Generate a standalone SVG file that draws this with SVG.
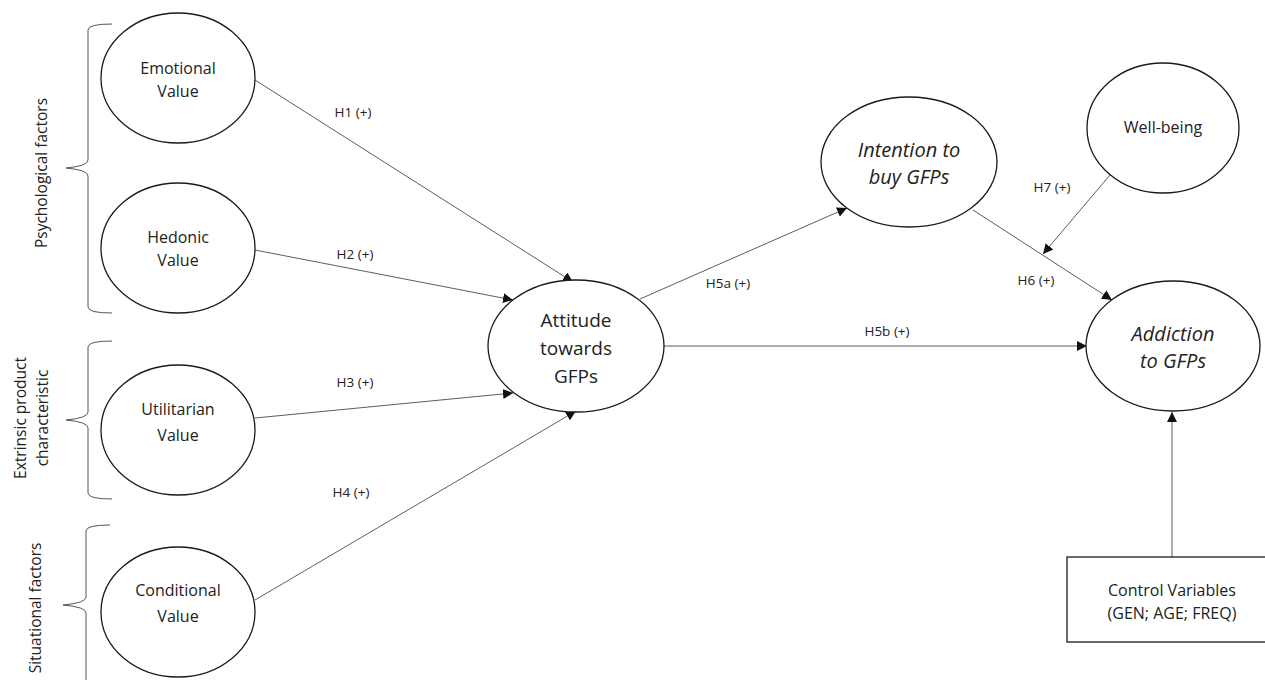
<svg xmlns="http://www.w3.org/2000/svg" width="1265" height="680" viewBox="0 0 1265 680">
<style>
.node{fill:#fff;stroke:#1a1a1a;stroke-width:1.3}
.t{font-family:"Open Sans","Liberation Sans",sans-serif;font-size:16px;fill:#222;text-anchor:middle}
.side{font-size:15.5px}
.big{font-size:19px}
.it{font-style:italic;font-size:20px}
.lbl{font-family:"Open Sans","Liberation Sans",sans-serif;font-size:13.5px;fill:#222;text-anchor:middle}
.edge{stroke:#333;stroke-width:0.8;fill:none}
.brace{stroke:#555;stroke-width:1;fill:none}
</style>
<defs>
<marker id="arr" viewBox="0 0 10 10" refX="10" refY="5" markerWidth="10" markerHeight="10" markerUnits="userSpaceOnUse" orient="auto">
<path d="M0,0 L10,5 L0,10 z" fill="#111"/>
</marker>
</defs>
<rect width="1265" height="680" fill="#fff"/>

<g id="braces">
<path class="brace" d="M112,24 Q88,24 88,30 L88,160 Q88,166 66,168 Q88,170 88,176 L88,307 Q88,313 112,313"/>
<path class="brace" d="M112,341 Q88,341 88,347 L88,412 Q88,418 66,420 Q88,422 88,428 L88,493 Q88,499 112,499"/>
<path class="brace" d="M110,525 Q86,525 86,531 L86,597 Q86,603 63,605 Q86,607 86,613 L86,690"/>
<text class="t side" transform="translate(47,173) rotate(-90)">Psychological factors</text>
<text class="t side" transform="translate(26,418) rotate(-90)">Extrinsic product</text>
<text class="t side" transform="translate(48,418) rotate(-90)">characteristic</text>
<text class="t side" transform="translate(41,608) rotate(-90)">Situational factors</text>
</g>

<g id="connectors">
<line class="edge" x1="255" y1="80" x2="573" y2="282" marker-end="url(#arr)"/>
<line class="edge" x1="255" y1="250" x2="513" y2="300" marker-end="url(#arr)"/>
<line class="edge" x1="255" y1="418" x2="513" y2="393" marker-end="url(#arr)"/>
<line class="edge" x1="255" y1="600" x2="576" y2="411" marker-end="url(#arr)"/>
<line class="edge" x1="640" y1="299" x2="847" y2="208" marker-end="url(#arr)"/>
<line class="edge" x1="664" y1="346" x2="1087" y2="346" marker-end="url(#arr)"/>
<line class="edge" x1="973" y1="210" x2="1112" y2="300" marker-end="url(#arr)"/>
<line class="edge" x1="1110" y1="175" x2="1043" y2="254" marker-end="url(#arr)"/>
<line class="edge" x1="1172" y1="557" x2="1172" y2="412" marker-end="url(#arr)"/>
<text class="lbl" x="353" y="117">H1 (+)</text>
<text class="lbl" x="355" y="259">H2 (+)</text>
<text class="lbl" x="355" y="387">H3 (+)</text>
<text class="lbl" x="351" y="497">H4 (+)</text>
<text class="lbl" x="728" y="288">H5a (+)</text>
<text class="lbl" x="887" y="336">H5b (+)</text>
<text class="lbl" x="1036" y="285">H6 (+)</text>
<text class="lbl" x="1052" y="192">H7 (+)</text>
</g>

<g id="emotional">
<ellipse class="node" cx="178" cy="78" rx="77" ry="65"/>
<text class="t" x="178" y="74">Emotional</text>
<text class="t" x="178" y="97">Value</text>
</g>
<g id="hedonic">
<ellipse class="node" cx="178" cy="248" rx="77" ry="65"/>
<text class="t" x="178" y="243">Hedonic</text>
<text class="t" x="178" y="266">Value</text>
</g>
<g id="utilitarian">
<ellipse class="node" cx="178" cy="430" rx="77" ry="65"/>
<text class="t" x="178" y="415">Utilitarian</text>
<text class="t" x="178" y="441">Value</text>
</g>
<g id="conditional">
<ellipse class="node" cx="178" cy="612" rx="77" ry="65"/>
<text class="t" x="178" y="596">Conditional</text>
<text class="t" x="178" y="622">Value</text>
</g>
<g id="attitude">
<ellipse class="node" cx="576" cy="346" rx="88" ry="66"/>
<text class="t big" x="576" y="327">Attitude</text>
<text class="t big" x="576" y="355">towards</text>
<text class="t big" x="576" y="383">GFPs</text>
</g>
<g id="intention">
<ellipse class="node" cx="909" cy="162" rx="88" ry="65"/>
<text class="t it" x="909" y="157">Intention to</text>
<text class="t it" x="909" y="184">buy GFPs</text>
</g>
<g id="wellbeing">
<ellipse class="node" cx="1163" cy="128" rx="76" ry="65"/>
<text class="t" x="1163" y="133">Well-being</text>
</g>
<g id="addiction">
<ellipse class="node" cx="1173" cy="346" rx="87" ry="65"/>
<text class="t it" x="1173" y="341">Addiction</text>
<text class="t it" x="1173" y="368">to GFPs</text>
</g>
<g id="control">
<rect class="node" x="1067" y="557" width="212" height="85"/>
<text class="t" x="1172" y="596">Control Variables</text>
<text class="t" x="1172" y="619">(GEN; AGE; FREQ)</text>
</g>
</svg>
